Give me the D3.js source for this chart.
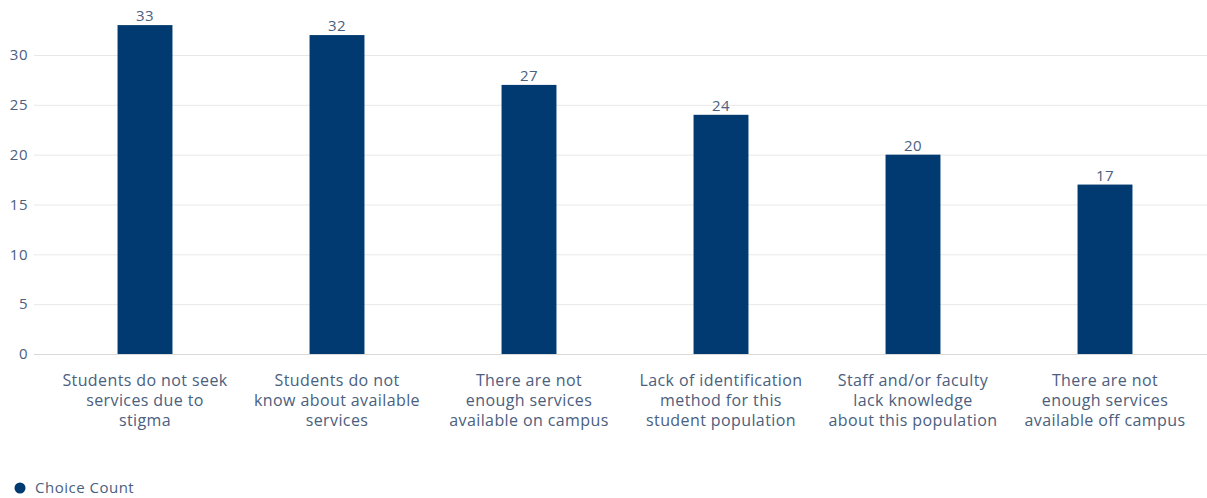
<!DOCTYPE html>
<html>
<head>
<meta charset="utf-8">
<script src="https://cdn.jsdelivr.net/npm/d3@7"></script>
<style>
  body { margin: 0; background: #fff; }
  text { font-family: "Open Sans", Lato, sans-serif; }
</style>
</head>
<body>
<div id="chart"></div>
<script>
// chart data
const categories = [
  ["Students do not seek", "services due to", "stigma"],
  ["Students do not", "know about available", "services"],
  ["There are not", "enough services", "available on campus"],
  ["Lack of identification", "method for this", "student population"],
  ["Staff and/or faculty", "lack knowledge", "about this population"],
  ["There are not", "enough services", "available off campus"]
];
const counts = [33, 32, 27, 24, 20, 17];
const yTicks = [0, 5, 10, 15, 20, 25, 30];
const seriesName = "Choice Count";

const width = 1207, height = 498;
const textColor = "#4a607e";
const barColor = "#003a70";

const svg = d3.select("#chart").append("svg")
    .attr("width", width)
    .attr("height", height);

const x = d3.scaleBand()
    .domain(d3.range(categories.length))
    .range([49, 1201])
    .paddingInner(0.714)
    .paddingOuter(0.357);

const y = d3.scaleLinear()
    .domain([0, 30])
    .range([354, 55]);

// gridlines
svg.append("g").selectAll("line")
  .data(yTicks)
  .join("line")
    .attr("x1", 34)
    .attr("x2", width)
    .attr("y1", d => y(d) + 0.5)
    .attr("y2", d => y(d) + 0.5)
    .attr("stroke", d => d === 0 ? "#d9d9d9" : "#e8e8e8")
    .attr("stroke-width", 1);

// y tick labels
svg.append("g").selectAll("text")
  .data(yTicks)
  .join("text")
    .attr("x", 28)
    .attr("y", d => y(d))
    .attr("dy", "0.35em")
    .attr("text-anchor", "end")
    .attr("fill", textColor)
    .attr("font-size", 15)
    .attr("letter-spacing", 0.5)
    .text(d => d);

// bars
svg.append("g").selectAll("rect")
  .data(counts)
  .join("rect")
    .attr("x", (d, i) => x(i))
    .attr("y", d => y(d))
    .attr("width", x.bandwidth())
    .attr("height", d => y(0) - y(d))
    .attr("fill", barColor);

// value labels
svg.append("g").selectAll("text")
  .data(counts)
  .join("text")
    .attr("x", (d, i) => x(i) + x.bandwidth() / 2)
    .attr("y", d => y(d) - 4)
    .attr("text-anchor", "middle")
    .attr("fill", textColor)
    .attr("font-size", 15)
    .attr("letter-spacing", 0.5)
    .text(d => d);

// category labels
const cat = svg.append("g").selectAll("text")
  .data(categories)
  .join("text")
    .attr("x", (d, i) => x(i) + x.bandwidth() / 2)
    .attr("y", 386)
    .attr("text-anchor", "middle")
    .attr("fill", textColor)
    .attr("font-size", 16)
    .attr("letter-spacing", 0.4);
cat.selectAll("tspan")
  .data(d => d)
  .join("tspan")
    .attr("x", function () { return d3.select(this.parentNode).attr("x"); })
    .attr("dy", (d, i) => i === 0 ? 0 : 20)
    .text(d => d);

// legend
const legend = svg.append("g").attr("transform", "translate(20,488)");
legend.append("circle").attr("r", 5.5).attr("fill", barColor);
legend.append("text")
    .attr("x", 15)
    .attr("dy", "0.35em")
    .attr("fill", textColor)
    .attr("font-size", 15)
    .attr("letter-spacing", 0.5)
    .text(seriesName);
</script>
</body>
</html>
